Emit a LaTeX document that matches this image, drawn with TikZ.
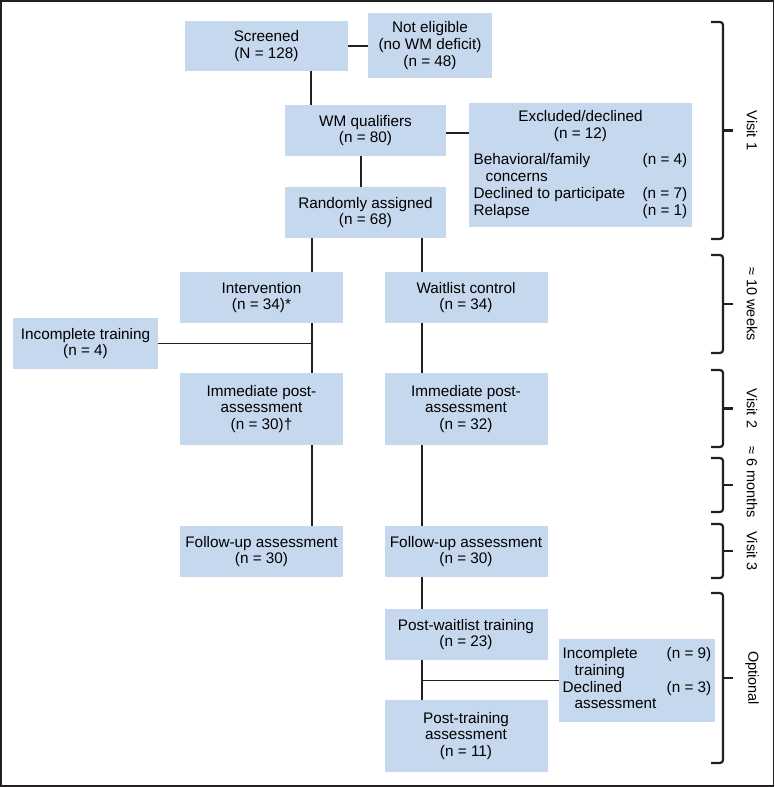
\documentclass[tikz,border=0pt]{standalone}
\usepackage{fontspec}
\setmainfont{Liberation Sans}

\definecolor{boxblue}{RGB}{197,216,238}
\definecolor{inkgray}{RGB}{35,31,32}

\begin{document}
\begin{tikzpicture}[x=1pt, y=-1pt, font=\fontsize{15.3}{16.7}\selectfont]
			%define block styles
			\tikzset{
				block/.style={rectangle, fill=boxblue, align=center, inner sep=0pt, minimum width=163pt, minimum height=51pt},
				tallblock/.style={block, minimum height=72pt},
				link/.style={draw=inkgray, line width=1.8pt},
				bracket/.style={draw=inkgray, line width=2.2pt, rounded corners=3pt},
				period/.style={rotate=-90, font=\fontsize{14.5}{16}\selectfont},
			}
			\useasboundingbox (0,0) rectangle (775,787);
			\draw[inkgray, line width=1.5pt] (0.75,0.75) rectangle (773.5,786);
			%define nodes
			\node[block, minimum height=50pt](screened) at (266.5,46) {Screened\\(N = 128)};
			\node[block, minimum width=124pt, minimum height=65pt](noteligible) at (430,45.5) {Not eligible\\(no WM deficit)\\(n = 48)};
			\node[block, minimum width=161pt](qualifiers) at (365.5,130.5) {WM qualifiers\\(n = 80)};
			\node[block, minimum width=223pt, minimum height=124pt](excluded) at (580.5,165) {%
				\begin{tabular}{@{}p{169pt}@{}l@{}}
					\multicolumn{2}{c}{Excluded/declined}\\
					\multicolumn{2}{c}{(n = 12)}\\[10pt]
					Behavioral/family & (n = 4)\\
					\hspace*{12pt}concerns & \\
					Declined to participate & (n = 7)\\
					Relapse & (n = 1)
				\end{tabular}};
			\node[block, minimum width=161pt](random) at (365.5,212.5) {Randomly assigned\\(n = 68)};
			\node[block](intervention) at (261.5,297.5) {Intervention\\(n = 34)*};
			\node[block](waitlist) at (466,297.5) {Waitlist control\\(n = 34)};
			\node[block, minimum width=145pt](incomplete) at (85.5,343.5) {Incomplete training\\(n = 4)};
			\node[tallblock](postint) at (261.5,409) {Immediate post-\\assessment\\(n = 30)†};
			\node[tallblock](postwait) at (466,409) {Immediate post-\\assessment\\(n = 32)};
			\node[block](followint) at (261.5,551.5) {Follow-up assessment\\(n = 30)};
			\node[block](followwait) at (466,551.5) {Follow-up assessment\\(n = 30)};
			\node[block](training) at (466,634.5) {Post-waitlist training\\(n = 23)};
			\node[tallblock](posttraining) at (466,736) {Post-training\\assessment\\(n = 11)};
			\node[block, minimum width=156pt, minimum height=83pt](dropout) at (637,680.5) {%
				\begin{tabular}{@{}p{104pt}@{}l@{}}
					Incomplete & (n = 9)\\
					\hspace*{12pt}training & \\
					Declined & (n = 3)\\
					\hspace*{12pt}assessment &
				\end{tabular}};
			%define arrows
			\coordinate (stem) at (311,0);
			\coordinate (armA) at (312,0);
			\coordinate (armB) at (422,0);
			\draw[link] (screened.east) -- (screened.east -| noteligible.west);
			\draw[link] (stem |- screened.south) -- (stem |- qualifiers.north);
			\draw[link] ([yshift=-2.5pt]qualifiers.east) -- ([yshift=-2.5pt]qualifiers.east -| excluded.west);
			\draw[link] ([xshift=-4.5pt]qualifiers.south) -- ([xshift=-4.5pt]random.north);
			\draw[link] (armA |- random.south) -- (armA |- intervention.north);
			\draw[link] (armB |- random.south) -- (armB |- waitlist.north);
			\draw[link] (armA |- intervention.south) -- (armA |- postint.north);
			\draw[link] (incomplete.east) -- (incomplete.east -| armA);
			\draw[link] (armB |- waitlist.south) -- (armB |- postwait.north);
			\draw[link] (armA |- postint.south) -- (armA |- followint.north);
			\draw[link] (armB |- postwait.south) -- (armB |- followwait.north);
			\draw[link] (armB |- followwait.south) -- (armB |- training.north);
			\draw[link] (armB |- training.south) -- (armB |- posttraining.north);
			\draw[link] (armB |- dropout.west) -- (dropout.west);
			%define brackets
			\draw[bracket] (711,22) -- (723,22) -- (723,239) -- (711,239);
			\draw[bracket] (723,130.5) -- (733,130.5);
			\node[period](visitone) at (752,130.5) {Visit 1};
			\draw[bracket] (711,255) -- (723,255) -- (723,353) -- (711,353);
			\draw[bracket] (723,304) -- (733,304);
			\node[period](weeks) at (752,304) {≈ 10 weeks};
			\draw[bracket] (711,370) -- (723,370) -- (723,447) -- (711,447);
			\draw[bracket] (723,408.5) -- (733,408.5);
			\node[period](visittwo) at (752,408.5) {Visit 2};
			\draw[bracket] (711,458) -- (723,458) -- (723,512) -- (711,512);
			\draw[bracket] (723,485) -- (733,485);
			\node[period](months) at (752,482) {≈ 6 months};
			\draw[bracket] (711,524) -- (723,524) -- (723,578) -- (711,578);
			\draw[bracket] (723,551) -- (733,551);
			\node[period](visitthree) at (752,551) {Visit 3};
			\draw[bracket] (711,593) -- (723,593) -- (723,763) -- (711,763);
			\draw[bracket] (723,678) -- (733,678);
			\node[period](optional) at (752,678) {Optional};
		\end{tikzpicture}
\end{document}
